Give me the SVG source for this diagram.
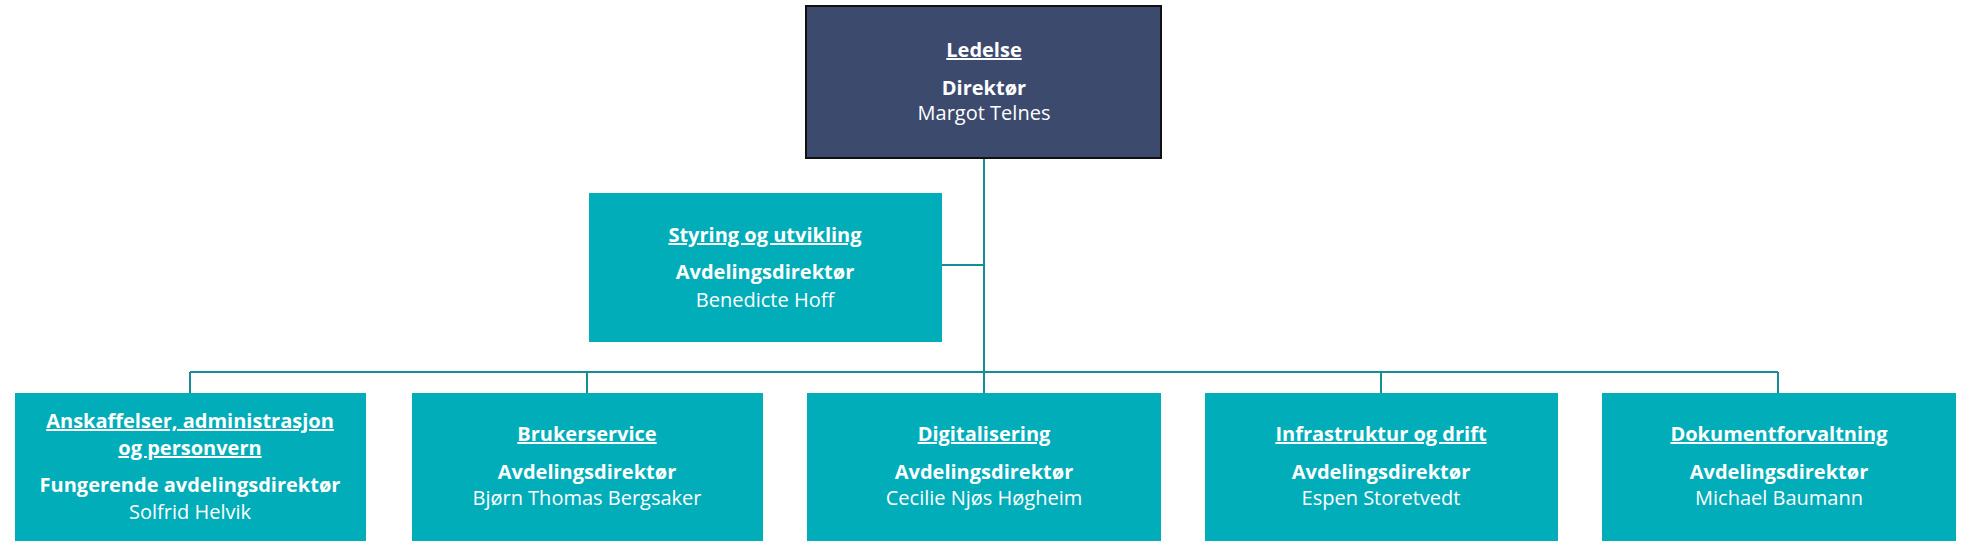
<svg xmlns="http://www.w3.org/2000/svg" width="1969" height="559" viewBox="0 0 1969 559">
<style>
.b{fill:#00adb9}
.t{font-family:"Open Sans","Noto Sans",sans-serif;font-size:20px;fill:#fff;text-anchor:middle}
.h{font-weight:bold;text-decoration:underline}
.r{font-weight:bold}
.c{stroke:#158c96;stroke-width:2;fill:none}
</style>
<rect width="1969" height="559" fill="#fff"/>
<g id="connectors">
<path class="c" d="M984 158V393M942 265H984M190 372H1778M190 372V393M587 372V393M1381 372V393M1778 372V393"/>
</g>
<g id="ledelse">
<rect x="806" y="6" width="355" height="152" fill="#3c4a6e" stroke="#111" stroke-width="2"/>
<text class="t h" x="984" y="57">Ledelse</text>
<text class="t r" x="984" y="95">Direktør</text>
<text class="t" x="984" y="120">Margot Telnes</text>
</g>
<g id="styring">
<rect class="b" x="589" y="193" width="353" height="149"/>
<text class="t h" x="765" y="242">Styring og utvikling</text>
<text class="t r" x="765" y="279">Avdelingsdirektør</text>
<text class="t" x="765" y="307">Benedicte Hoff</text>
</g>
<g id="anskaffelser">
<rect class="b" x="15" y="393" width="351" height="148"/>
<text class="t h" x="190" y="428">Anskaffelser, administrasjon</text>
<text class="t h" x="190" y="455">og personvern</text>
<text class="t r" x="190" y="492">Fungerende avdelingsdirektør</text>
<text class="t" x="190" y="519">Solfrid Helvik</text>
</g>
<g id="brukerservice">
<rect class="b" x="412" y="393" width="351" height="148"/>
<text class="t h" x="587" y="441">Brukerservice</text>
<text class="t r" x="587" y="479">Avdelingsdirektør</text>
<text class="t" x="587" y="505">Bjørn Thomas Bergsaker</text>
</g>
<g id="digitalisering">
<rect class="b" x="807" y="393" width="354" height="148"/>
<text class="t h" x="984" y="441">Digitalisering</text>
<text class="t r" x="984" y="479">Avdelingsdirektør</text>
<text class="t" x="984" y="505">Cecilie Njøs Høgheim</text>
</g>
<g id="infrastruktur">
<rect class="b" x="1205" y="393" width="353" height="148"/>
<text class="t h" x="1381" y="441">Infrastruktur og drift</text>
<text class="t r" x="1381" y="479">Avdelingsdirektør</text>
<text class="t" x="1381" y="505">Espen Storetvedt</text>
</g>
<g id="dokument">
<rect class="b" x="1602" y="393" width="354" height="148"/>
<text class="t h" x="1779" y="441">Dokumentforvaltning</text>
<text class="t r" x="1779" y="479">Avdelingsdirektør</text>
<text class="t" x="1779" y="505">Michael Baumann</text>
</g>
</svg>
